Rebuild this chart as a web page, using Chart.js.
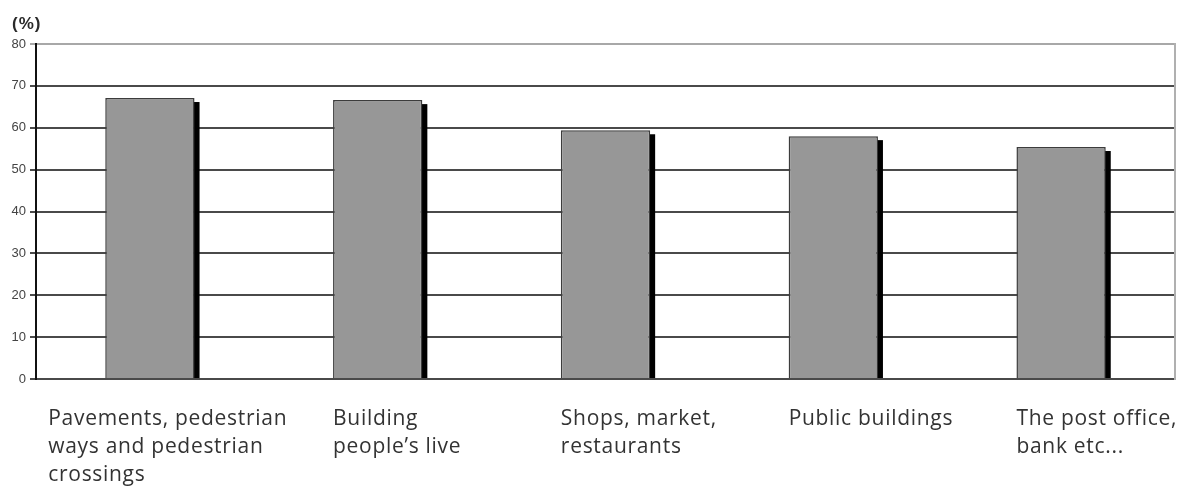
<!DOCTYPE html>
<html>
<head>
<meta charset="utf-8">
<script src="https://cdn.jsdelivr.net/npm/chart.js@4/dist/chart.umd.min.js"></script>
<style>
  html, body { margin: 0; padding: 0; background: #fff; }
  #wrap { width: 1180px; height: 486px; }
</style>
</head>
<body>
<div id="wrap"><canvas id="chart"></canvas></div>
<script>
// Data
const categories = [
  ["Pavements, pedestrian", "ways and pedestrian", "crossings"],
  ["Building", "people\u2019s live"],
  ["Shops, market,", "restaurants"],
  ["Public buildings"],
  ["The post office,", "bank etc..."]
];
const values = [67.1, 66.6, 59.4, 58.0, 55.4];
const yTicks = [0, 10, 20, 30, 40, 50, 60, 70, 80];
const unitLabel = "(%)";

// shadow on the right side of each bar
const barShadow = {
  id: "barShadow",
  beforeDatasetsDraw(chart) {
    const ctx = chart.ctx;
    const meta = chart.getDatasetMeta(0);
    ctx.save();
    ctx.fillStyle = "#000";
    meta.data.forEach((bar) => {
      const right = bar.x + bar.width / 2;
      ctx.fillRect(right - 1, bar.y + 4, 6, bar.base - bar.y - 4);
    });
    ctx.restore();
  }
};

// category labels under the axis, left aligned near the bar
const labelShift = [-57, 0, 0, 0, 0];
const bottomLabels = {
  id: "bottomLabels",
  afterDraw(chart) {
    const ctx = chart.ctx;
    const meta = chart.getDatasetMeta(0);
    ctx.save();
    ctx.fillStyle = "#333";
    ctx.font = "500 21px 'Open Sans', sans-serif";
    ctx.letterSpacing = "0.7px";
    ctx.textAlign = "left";
    ctx.textBaseline = "alphabetic";
    meta.data.forEach((bar, i) => {
      const x = bar.x - bar.width / 2 + labelShift[i];
      categories[i].forEach((line, j) => {
        ctx.fillText(line, x, chart.chartArea.bottom + 46 + j * 28);
      });
    });
    // unit label
    ctx.fillStyle = "#2a2a2a";
    ctx.letterSpacing = "1px";
    ctx.font = "bold 17px 'Liberation Sans', sans-serif";
    ctx.fillText(unitLabel, 12, 29);
    ctx.restore();
  }
};

new Chart(document.getElementById("chart"), {
  type: "bar",
  data: {
    labels: categories.map((c) => c.join(" ")),
    datasets: [
      {
        data: values,
        backgroundColor: "#979797",
        borderColor: "#3c3c3c",
        borderWidth: 1.5,
        barPercentage: 0.8,
        categoryPercentage: 0.49
      }
    ]
  },
  options: {
    responsive: true,
    maintainAspectRatio: false,
    animation: false,
    layout: { padding: { top: 44, right: 5, bottom: 107, left: 0 } },
    plugins: {
      legend: { display: false },
      tooltip: { enabled: false }
    },
    scales: {
      x: {
        ticks: { display: false },
        grid: { display: false, drawTicks: false },
        border: { display: false }
      },
      y: {
        min: 0,
        max: 80,
        afterBuildTicks: (s) => { s.ticks = yTicks.map((v) => ({ value: v })); },
        afterFit: (s) => { s.width = 36; },
        ticks: {
          color: "#444",
          font: { family: "'Liberation Sans', sans-serif", size: 13 },
          padding: 4
        },
        grid: {
          color: (c) => (c.tick && c.tick.value === 80 ? "#a8a8a8" : "#4a4a4a"),
          lineWidth: 2,
          tickLength: 6
        },
        border: { color: "#111", width: 2 }
      },
      y2: {
        position: "right",
        min: 0,
        max: 80,
        afterFit: (s) => { s.width = 0; },
        ticks: { display: false },
        grid: { display: false, drawTicks: false },
        border: { color: "#b0b0b0", width: 2 }
      }
    }
  },
  plugins: [barShadow, bottomLabels]
});
</script>
</body>
</html>
